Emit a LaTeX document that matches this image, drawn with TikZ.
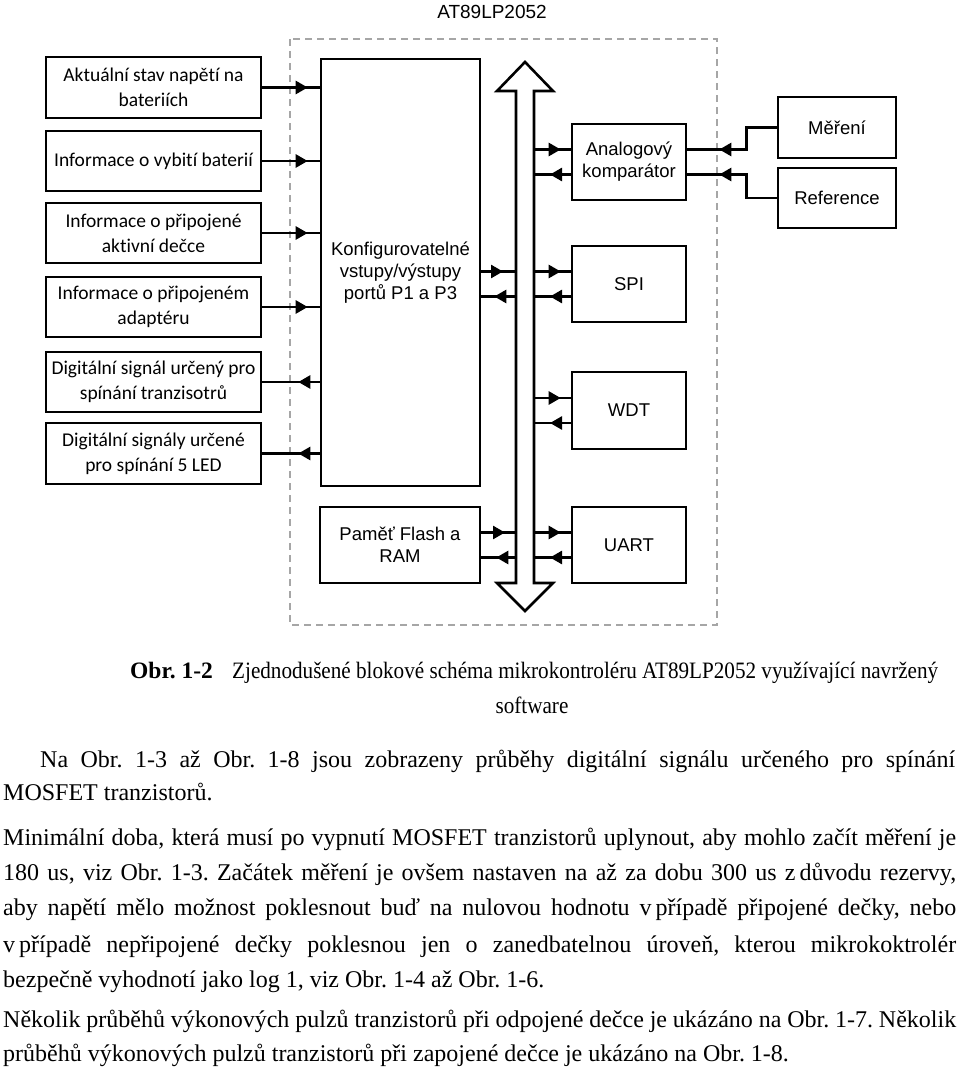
\documentclass[tikz,border=0pt]{standalone}
\usepackage{fontspec}
\setmainfont{Liberation Serif}
\newfontfamily\arialfont{Liberation Sans}
\newfontfamily\calfont[Ligatures=NoCommon]{Carlito}
\newfontfamily\capfont[FakeStretch=0.9]{Liberation Serif}
\usetikzlibrary{arrows.meta,decorations.markings}
\frenchspacing

\tikzset{
  inbox/.style={draw, line width=2.6pt, minimum width=215pt, inner sep=2pt, align=center,
    font=\calfont\fontsize{19.5}{25}\selectfont},
  blok/.style={draw, line width=2.6pt, inner sep=2pt, align=center,
    font=\arialfont\fontsize{18.5}{22}\selectfont},
  sig/.style={line width=2.6pt, postaction={decorate},
    decoration={markings, mark=at position #1 with {\arrow{Triangle[length=12pt,width=13pt]}}}},
  txtline/.style={anchor=base west, inner sep=0pt, font=\fontsize{24}{27}\selectfont},
}

\begin{document}
\begin{tikzpicture}[x=1pt,y=-1pt]
		\useasboundingbox (0,0) rectangle (960,1073);

		% Microcontroller frame
		\draw[gray!70, line width=1.3pt, dash pattern=on 7pt off 5pt] (290,39) rectangle (717,625);
		\node[font=\arialfont\fontsize{19}{22}\selectfont] (tit) at (492,12) {AT89LP2052};

		% Inputs and outputs
		\node[inbox, minimum height=61pt] (bat) at (153.5,87.5) {Aktuální stav napětí na\\bateriích};
		\node[inbox, minimum height=60pt] (vyb) at (153.5,161) {Informace o vybití baterií};
		\node[inbox, minimum height=60pt] (dec) at (153.5,233) {Informace o připojené\\aktivní dečce};
		\node[inbox, minimum height=60pt] (ada) at (153.5,307) {Informace o připojeném\\adaptéru};
		\node[inbox, minimum height=60pt] (tra) at (153.5,382) {Digitální signál určený pro\\spínání tranzisotrů};
		\node[inbox, minimum height=61pt] (led) at (153.5,453.5) {Digitální signály určené\\pro spínání 5 LED};

		% Blocks
		\node[blok, minimum width=159pt, minimum height=427pt] (kon) at (400.5,272.5) {Konfigurovatelné\\vstupy/výstupy\\portů P1 a P3};
		\node[blok, minimum width=160pt, minimum height=76pt] (pam) at (400,545) {Paměť Flash a\\RAM};
		\node[blok, minimum width=114pt, minimum height=76pt] (an) at (629,162) {Analogový\\komparátor};
		\node[blok, minimum width=114pt, minimum height=76pt] (spi) at (629,284) {SPI};
		\node[blok, minimum width=114pt, minimum height=77pt] (wdt) at (629,410.5) {WDT};
		\node[blok, minimum width=114pt, minimum height=76pt] (uart) at (629,545) {UART};
		\node[blok, minimum width=118pt, minimum height=61pt] (mer) at (837,127.5) {Měření};
		\node[blok, minimum width=118pt, minimum height=60pt] (ref) at (837,198) {Reference};

		% Bus
		\draw[line width=2.6pt] (525,62) -- (553,91) -- (534,91) -- (534,583) -- (553,583) -- (525,611)
			-- (497,583) -- (516,583) -- (516,91) -- (497,91) -- cycle;
		\coordinate (busl) at (516,0);
		\coordinate (busr) at (534,0);

		% Signals
		\foreach \b in {bat,vyb,dec,ada}
			\draw[sig=-12pt] (\b.east) -- (\b.east -| kon.west);
		\foreach \b in {tra,led}
			\draw[sig=-36pt] (\b.east -| kon.west) -- (\b.east);
		\foreach \b in {an,spi,wdt,uart}{
			\coordinate (\b-i) at ([yshift=12.5pt]\b.west);
			\coordinate (\b-o) at ([yshift=-12.5pt]\b.west);
			\draw[sig=-10pt] (\b-i -| busr) -- (\b-i);
			\draw[sig=-16pt] (\b-o) -- (\b-o -| busr);
		}
		\draw[sig=-13pt] (spi-i -| kon.east) -- (spi-i -| busl);
		\draw[sig=-13pt] (spi-o -| busl) -- (spi-o -| kon.east);
		\coordinate (pam-i) at ([yshift=12.5pt]pam.east);
		\coordinate (pam-o) at ([yshift=-12.5pt]pam.east);
		\draw[sig=-11pt] (pam-i) -- (pam-i -| busl);
		\draw[sig=-15pt] (pam-o -| busl) -- (pam-o);
		\draw[sig=-32pt] (mer.west) -- ++(-30,0) |- (an-i -| an.east);
		\draw[sig=-32pt] (ref.west) -- ++(-30,0) |- (an-o -| an.east);

		% Caption
		\node[txtline, font=\fontsize{23.5}{27}\selectfont] (capno) at (130,678) {\textbf{Obr. 1-2}};
		\node[txtline, font=\fontsize{23.5}{27}\selectfont] (captx) at (232,678) {\capfont Zjednodušené blokové schéma mikrokontroléru AT89LP2052 využívající navržený};
		\node[txtline, anchor=base, font=\fontsize{23.5}{27}\selectfont] (capsw) at (532,713) {\capfont software};

		% Text
		\node[txtline] (l1) at (40,767) {\makebox[915pt][s]{Na Obr. 1-3 až Obr. 1-8 jsou zobrazeny průběhy digitální signálu určeného pro spínání}};
		\node[txtline] (l2) at (3,800) {MOSFET tranzistorů.};
		\node[txtline] (l3) at (3,845) {\makebox[953pt][s]{Minimální doba, která musí po vypnutí MOSFET tranzistorů uplynout, aby mohlo začít měření je}};
		\node[txtline] (l4) at (3,880) {\makebox[953pt][s]{180 us, viz Obr. 1-3. Začátek měření je ovšem nastaven na až za dobu 300 us z\hspace{4pt}důvodu rezervy,}};
		\node[txtline] (l5) at (3,915) {\makebox[953pt][s]{aby napětí mělo možnost poklesnout buď na nulovou hodnotu v\hspace{4pt}případě připojené dečky, nebo}};
		\node[txtline] (l6) at (3,952) {\makebox[953pt][s]{v\hspace{4pt}případě nepřipojené dečky poklesnou jen o zanedbatelnou úroveň, kterou mikrokoktrolér}};
		\node[txtline] (l7) at (3,987) {bezpečně vyhodnotí jako log 1, viz Obr. 1-4 až Obr. 1-6.};
		\node[txtline] (l8) at (3,1027) {\makebox[953pt][s]{Několik průběhů výkonových pulzů tranzistorů při odpojené dečce je ukázáno na Obr. 1-7. Několik}};
		\node[txtline] (l9) at (3,1061) {průběhů výkonových pulzů tranzistorů při zapojené dečce je ukázáno na Obr. 1-8.};
	\end{tikzpicture}
\end{document}
